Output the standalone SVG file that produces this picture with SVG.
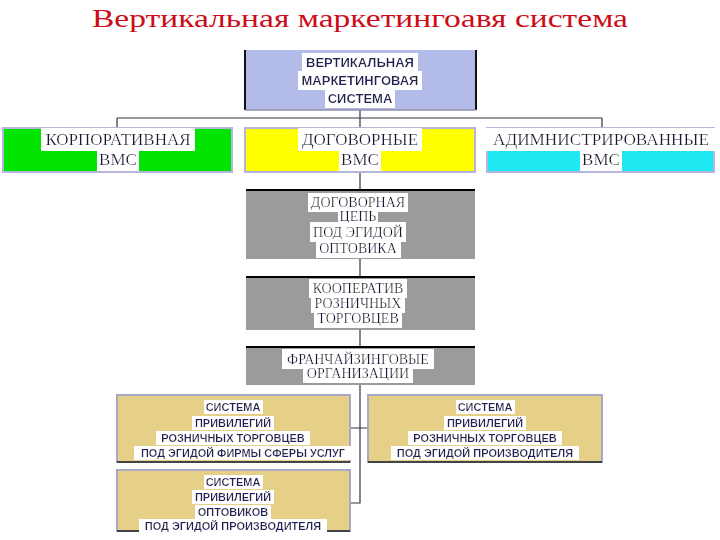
<svg xmlns="http://www.w3.org/2000/svg" width="720" height="540" viewBox="0 0 720 540">
<defs>
<filter id="hl" x="-3%" y="-8%" width="106%" height="116%"><feFlood flood-color="#ffffff"/><feComposite in="SourceGraphic" operator="over"/></filter>
</defs>
<style>
.title{font-family:"Liberation Serif",serif;font-size:26px;fill:#cc0c18}
.sb{font-family:"Liberation Sans","DejaVu Sans",sans-serif;font-weight:bold;fill:#23235a;text-anchor:middle}
.sr{font-family:"Liberation Serif",serif;fill:#15153c;text-anchor:middle}
.con{stroke:#333344;stroke-width:1.2;fill:none}
.row{stroke:#b4b4dc;stroke-width:2}
.gray{fill:#9b9b9b}
.beige{fill:#e6cf86;stroke:#a6a8c4;stroke-width:2}
</style>
<rect width="720" height="540" fill="#ffffff"/>
<text class="title" x="360" y="27" text-anchor="middle" textLength="536" lengthAdjust="spacingAndGlyphs">Вертикальная маркетингоавя система</text>

<g id="connectors">
<path class="con" d="M360 110 V118 M117 118 H602 M117 118 V127 M602 118 V127 M360 118 V127"/>
<path class="con" d="M360 172 V190 M360 259 V277 M360 330 V347 M360 385 V503 H350 M350 428 H368"/>
</g>

<g id="vms">
<rect x="245" y="50" width="231" height="60" fill="#b3bbe8"/>
<path d="M245 50 V110 M476 50 V110" stroke="#111" stroke-width="2"/>
<line x1="245" y1="110" x2="476" y2="110" stroke="#9090a8" stroke-width="1.5"/>
<text class="sb" font-size="13" x="360" y="67" filter="url(#hl)">ВЕРТИКАЛЬНАЯ</text>
<text class="sb" font-size="13" x="360" y="85" filter="url(#hl)">МАРКЕТИНГОВАЯ</text>
<text class="sb" font-size="13" x="360" y="103" filter="url(#hl)">СИСТЕМА</text>
</g>

<g id="corp">
<rect class="row" x="3" y="128" width="229" height="44" fill="#00e400"/>
<text class="sr" font-size="17" x="118" y="145" filter="url(#hl)">КОРПОРАТИВНАЯ</text>
<text class="sr" font-size="17" x="118" y="165" filter="url(#hl)">ВМС</text>
</g>

<g id="dog">
<rect class="row" x="245" y="128" width="230" height="44" fill="#ffff00"/>
<text class="sr" font-size="17" x="360" y="145" filter="url(#hl)">ДОГОВОРНЫЕ</text>
<text class="sr" font-size="17" x="360" y="165" filter="url(#hl)">ВМС</text>
</g>

<g id="adm">
<rect class="row" x="487" y="128" width="227" height="44" fill="#1ee8f2"/>
<text class="sr" font-size="17" x="601" y="145" filter="url(#hl)" textLength="216" lengthAdjust="spacingAndGlyphs">АДИМНИСТРИРОВАННЫЕ</text>
<text class="sr" font-size="17" x="601" y="165" filter="url(#hl)">ВМС</text>
</g>

<g id="chain">
<rect class="gray" x="246" y="190" width="229" height="69"/>
<line x1="246" y1="190" x2="475" y2="190" stroke="#000" stroke-width="2"/>
<text class="sr" font-size="14" x="358" y="207" filter="url(#hl)">ДОГОВОРНАЯ</text>
<text class="sr" font-size="14" x="358" y="221" filter="url(#hl)">ЦЕПЬ</text>
<text class="sr" font-size="14" x="358" y="237" filter="url(#hl)">ПОД  ЭГИДОЙ</text>
<text class="sr" font-size="14" x="358" y="253" filter="url(#hl)">ОПТОВИКА</text>
</g>

<g id="coop">
<rect class="gray" x="246" y="277" width="229" height="53"/>
<line x1="246" y1="277" x2="475" y2="277" stroke="#000" stroke-width="2"/>
<text class="sr" font-size="14" x="358" y="293" filter="url(#hl)">КООПЕРАТИВ</text>
<text class="sr" font-size="14" x="358" y="308" filter="url(#hl)">РОЗНИЧНЫХ</text>
<text class="sr" font-size="14" x="358" y="323" filter="url(#hl)">ТОРГОВЦЕВ</text>
</g>

<g id="fran">
<rect class="gray" x="246" y="347" width="229" height="38"/>
<line x1="246" y1="347" x2="475" y2="347" stroke="#000" stroke-width="2"/>
<text class="sr" font-size="14" x="358" y="364" filter="url(#hl)">ФРАНЧАЙЗИНГОВЫЕ</text>
<text class="sr" font-size="14" x="358" y="378" filter="url(#hl)">ОРГАНИЗАЦИИ</text>
</g>

<g id="priv-services">
<rect class="beige" x="117" y="395" width="233" height="67"/>
<line x1="117" y1="462" x2="350" y2="462" stroke="#222" stroke-width="1.5"/>
<text class="sb" font-size="11" x="233" y="411" filter="url(#hl)">СИСТЕМА</text>
<text class="sb" font-size="11" x="233" y="427" filter="url(#hl)">ПРИВИЛЕГИЙ</text>
<text class="sb" font-size="11" x="233" y="442" filter="url(#hl)">РОЗНИЧНЫХ ТОРГОВЦЕВ</text>
<text class="sb" font-size="11" x="243" y="457" filter="url(#hl)" textLength="204" lengthAdjust="spacingAndGlyphs">ПОД ЭГИДОЙ ФИРМЫ СФЕРЫ УСЛУГ</text>
</g>

<g id="priv-retail">
<rect class="beige" x="368" y="395" width="234" height="67"/>
<line x1="368" y1="462" x2="602" y2="462" stroke="#222" stroke-width="1.5"/>
<text class="sb" font-size="11" x="485" y="411" filter="url(#hl)">СИСТЕМА</text>
<text class="sb" font-size="11" x="485" y="427" filter="url(#hl)">ПРИВИЛЕГИЙ</text>
<text class="sb" font-size="11" x="485" y="442" filter="url(#hl)">РОЗНИЧНЫХ ТОРГОВЦЕВ</text>
<text class="sb" font-size="11" x="485" y="457" filter="url(#hl)">ПОД ЭГИДОЙ ПРОИЗВОДИТЕЛЯ</text>
</g>

<g id="priv-wholesale">
<rect class="beige" x="117" y="470" width="233" height="61"/>
<line x1="117" y1="531" x2="350" y2="531" stroke="#222" stroke-width="1.5"/>
<text class="sb" font-size="11" x="233" y="486" filter="url(#hl)">СИСТЕМА</text>
<text class="sb" font-size="11" x="233" y="501" filter="url(#hl)">ПРИВИЛЕГИЙ</text>
<text class="sb" font-size="11" x="233" y="516" filter="url(#hl)">ОПТОВИКОВ</text>
<text class="sb" font-size="11" x="233" y="530" filter="url(#hl)">ПОД ЭГИДОЙ ПРОИЗВОДИТЕЛЯ</text>
</g>
</svg>
